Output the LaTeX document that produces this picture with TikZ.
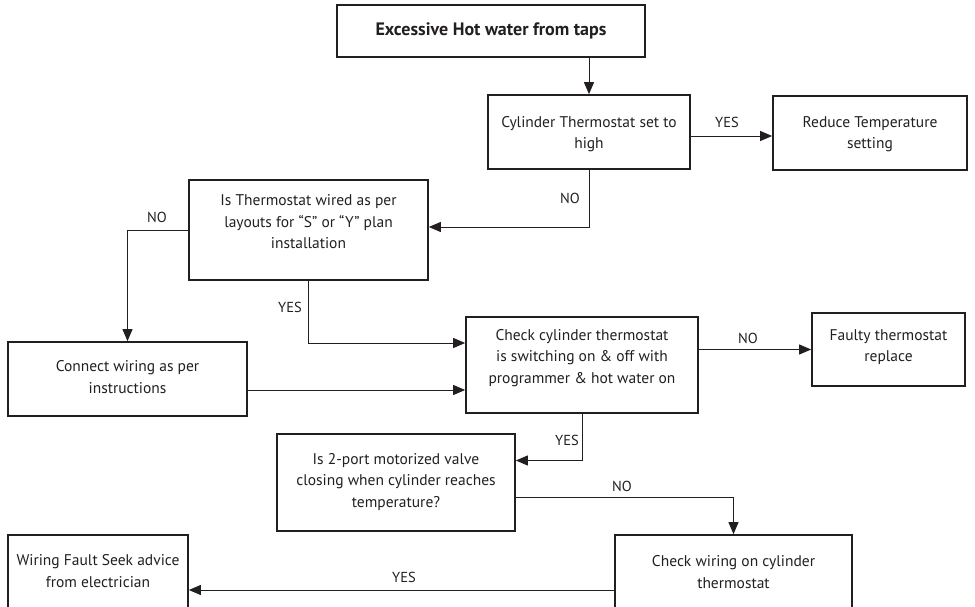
\documentclass[tikz,border=0pt]{standalone}
\usepackage{fontspec}
\setmainfont{PT Sans}
\usetikzlibrary{arrows.meta,calc}
\definecolor{ink}{HTML}{231F20}
\tikzset{
  box/.style={draw=ink, line width=1.7pt, rectangle, inner sep=0pt},
  txt/.style={text=ink, align=center, font=\fontsize{15.5}{21.5}\selectfont, inner sep=0pt},
  lbl/.style={text=ink, font=\fontsize{14.5}{16}\selectfont, inner sep=0pt},
  arr/.style={draw=ink, line width=0.9pt, -{Triangle[length=12pt,width=10pt]}},
}
\begin{document}
\begin{tikzpicture}[x=1pt,y=-1pt]
\clip (0,0) rectangle (975,607);
\useasboundingbox (0,0) rectangle (975,607);
% boxes
\node[box, minimum width=308, minimum height=52] (top) at (491,31) {};
\node[txt, font=\bfseries\fontsize{18}{20}\selectfont] (ttop) at (491,31) {Excessive Hot water from taps};
\node[box, minimum width=202, minimum height=74] (cyl) at (589,132) {};
\node[txt] (tcyl) at (589,134) {Cylinder Thermostat set to\\high};
\node[box, minimum width=194, minimum height=74] (red) at (870,133) {};
\node[txt] (tred) at (870,134) {Reduce Temperature\\setting};
\node[box, minimum width=239, minimum height=100] (ist) at (308.5,230) {};
\node[txt] (tist) at (308.5,222) {Is Thermostat wired as per\\layouts for “S” or “Y” plan\\installation};
\node[box, minimum width=239, minimum height=74] (con) at (127.5,379) {};
\node[txt] (tcon) at (127.5,377) {Connect wiring as per\\instructions};
\node[box, minimum width=232, minimum height=96] (chk) at (582,365) {};
\node[txt] (tchk) at (582,358) {Check cylinder thermostat\\is switching on \& off with\\programmer \& hot water on};
\node[box, minimum width=153, minimum height=73] (fau) at (888.5,349.5) {};
\node[txt] (tfau) at (888.5,347) {Faulty thermostat\\replace};
\node[box, minimum width=238, minimum height=97] (val) at (396,482.5) {};
\node[txt] (tval) at (396,482) {Is 2-port motorized valve\\closing when cylinder reaches\\temperature?};
\node[box, minimum width=237, minimum height=110] (wir) at (733.5,590) {};
\node[txt] (twir) at (733.5,572) {Check wiring on cylinder\\thermostat};
\node[box, minimum width=180, minimum height=110] (flt) at (98,590) {};
\node[txt] (tflt) at (98,571) {Wiring Fault Seek advice\\from electrician};
% connectors
\draw[arr] (cyl.north |- top.south) -- (cyl.north);
\draw[arr] ($(cyl.east)+(0,4)$) coordinate (c0) -- (c0 -| red.west);
\node[lbl] (lyes1) at (727,122) {YES};
\draw[arr] (cyl.south) |- ($(ist.east)+(0,-3)$);
\node[lbl] (lno1) at (570,198) {NO};
\draw[arr] (ist.west) -| (con.north);
\node[lbl] (lno2) at (157,217) {NO};
\coordinate (c1) at ($(chk.west)+(0,-22)$);
\draw[arr] (ist.south) |- (c1);
\node[lbl] (lyes2) at (290,307) {YES};
\coordinate (c2) at ($(con.east)+(0,11)$);
\draw[arr] (c2) -- (c2 -| chk.west);
\draw[arr] (fau.west -| chk.east) -- (fau.west);
\node[lbl] (lno3) at (748,338) {NO};
\coordinate (c3) at ($(val.east)+(0,-22)$);
\draw[arr] (chk.south) |- (c3);
\node[lbl] (lyes3) at (567,440) {YES};
\coordinate (c4) at ($(val.east)+(0,15)$);
\draw[arr] (c4) -| (wir.north);
\node[lbl] (lno4) at (622,486) {NO};
\draw[arr] (wir.west) -- (wir.west -| flt.east);
\node[lbl] (lyes4) at (404,577) {YES};
\end{tikzpicture}
\end{document}
